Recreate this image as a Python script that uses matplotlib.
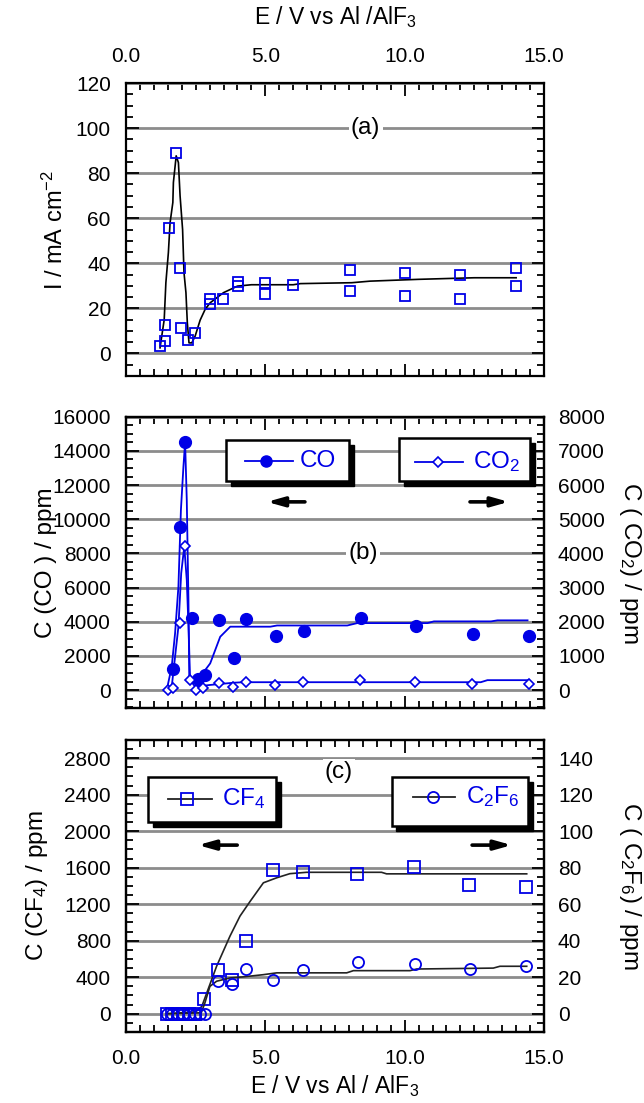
import matplotlib
matplotlib.use('Agg')
import matplotlib.pyplot as plt
from matplotlib.patches import Rectangle
from matplotlib.ticker import MultipleLocator, FormatStrFormatter

plt.rcParams['font.family'] = ['Liberation Sans', 'DejaVu Sans']
plt.rcParams['mathtext.fontset'] = 'custom'
plt.rcParams['mathtext.rm'] = 'Liberation Sans'
plt.rcParams['mathtext.it'] = 'Liberation Sans:italic'
plt.rcParams['mathtext.bf'] = 'Liberation Sans:bold'
plt.rcParams['mathtext.default'] = 'regular'

BLUE = '#0000e6'
GRID = '#8c8c8c'
TICKFS = 15
LABFS = 17

# ---- (a) current density
a_E = [1.22, 1.40, 1.40, 1.56, 1.80, 1.95, 1.98, 2.22, 2.49, 3.02, 3.02, 3.48,
       4.02, 4.02, 5.0, 5.0, 6.0, 8.03, 8.03, 10.0, 10.0, 12.0, 12.0, 14.0, 14.0]
a_I = [3.2, 5.5, 12.6, 55.7, 88.8, 37.8, 11.1, 6.2, 8.9, 24.0, 21.8, 24.0,
       31.9, 29.9, 31.4, 26.2, 30.5, 37.0, 27.7, 35.6, 25.5, 35.0, 24.0, 37.8, 29.8]
a_fitE = [1.22, 1.37, 1.43, 1.52, 1.58, 1.68, 1.70, 1.80, 1.88, 1.94, 2.03, 2.08,
          2.15, 2.20, 2.26, 2.36, 2.48, 2.66, 2.84, 3.02, 3.50, 4.00, 4.50, 6.00,
          6.26, 8.10, 8.76, 10.5, 12.5, 14.0]
a_fitI = [2.5, 15.0, 31.4, 44.8, 58.0, 67.0, 75.9, 87.7, 84.7, 69.9, 55.0, 35.9,
          27.0, 13.6, 4.7, 4.7, 7.7, 14.8, 19.6, 22.5, 27.0, 29.9, 30.5, 30.5,
          31.0, 31.4, 32.1, 32.9, 33.6, 33.6]

# ---- (b) CO (left axis) and CO2 (right axis)
co_E = [1.70, 1.94, 2.12, 2.36, 2.59, 2.84, 3.34, 3.86, 4.32, 5.38, 6.38,
        8.42, 10.4, 12.44, 14.45]
co_C = [1210, 9530, 14500, 4240, 630, 860, 4100, 1890, 4140, 3180, 3460,
        4240, 3750, 3260, 3180]
co_fitE = [1.46, 1.64, 1.76, 1.88, 1.97, 2.06, 2.12, 2.18, 2.24, 2.27, 2.42,
           2.66, 3.02, 3.38, 3.74, 5.18, 5.42, 7.94, 8.30, 10.82, 11.05, 13.10,
           13.33, 14.41]
co_fitC = [0, 1370, 3320, 6050, 10550, 13080, 14500, 11130, 5270, 590, 390,
           780, 1560, 3120, 3710, 3710, 3780, 3780, 3920, 3920, 4020, 4020,
           4080, 4080]
co2_E = [1.49, 1.68, 1.92, 2.10, 2.30, 2.51, 2.78, 3.32, 3.84, 4.31, 5.36, 6.36,
         8.38, 10.37, 12.4, 14.45]
co2_C = [0, 50, 1950, 4230, 290, 0, 50, 200, 100, 245, 150, 245,
         290, 225, 175, 175]
co2_fitE = [1.49, 1.64, 1.88, 1.98, 2.09, 2.18, 2.25, 2.30, 2.48, 3.02, 3.86,
            4.22, 12.73, 12.97, 14.40]
co2_fitC = [0, 100, 1855, 3420, 4200, 3220, 1660, 290, 100, 150, 215,
            230, 230, 290, 290]

# ---- (c) CF4 (left axis) and C2F6 (right axis)
cf4_E = [1.46, 1.66, 1.86, 2.06, 2.26, 2.46, 2.80, 3.31, 3.79, 4.29, 5.29, 6.34,
         8.30, 10.33, 12.32, 14.35]
cf4_C = [0, 0, 0, 0, 0, 0, 160, 480, 370, 800, 1580, 1550,
         1530, 1605, 1410, 1385]
cf4_fitE = [1.46, 2.50, 2.72, 2.90, 3.25, 3.73, 4.09, 4.45, 4.93, 5.41, 5.88,
            6.48, 9.17, 9.35, 14.38]
cf4_fitC = [0, 20, 80, 230, 520, 850, 1070, 1230, 1435, 1490, 1535,
            1550, 1550, 1533, 1533]
c2f6_E = [1.46, 1.66, 1.86, 2.06, 2.26, 2.46, 2.66, 2.83, 3.31, 3.81, 4.29,
          5.29, 6.36, 8.34, 10.36, 12.34, 14.35]
c2f6_C = [0, 0, 0, 0, 0, 0, 0, 0, 17.7, 16.5, 24.5,
          18.3, 23.8, 28.2, 27.3, 24.5, 26.3]
c2f6_fitE = [1.46, 2.70, 2.83, 3.01, 3.25, 3.73, 4.21, 4.93, 5.41, 7.92, 8.16,
             10.19, 10.43, 13.18, 13.42, 14.38]
c2f6_fitC = [0, 0.5, 5.9, 15.0, 17.8, 19.6, 20.2, 21.4, 22.4, 22.4, 23.6,
             23.6, 24.5, 25.0, 26.0, 26.0]


def style(ax, ymaj, ymin):
    ax.set_xlim(0, 15)
    ax.xaxis.set_major_locator(MultipleLocator(5))
    ax.xaxis.set_minor_locator(MultipleLocator(0.5))
    ax.xaxis.set_major_formatter(FormatStrFormatter('%.1f'))
    ax.yaxis.set_major_locator(MultipleLocator(ymaj))
    ax.yaxis.set_minor_locator(MultipleLocator(ymin))
    ax.tick_params(which='both', direction='in', top=True, width=1.3,
                   labelsize=TICKFS)
    ax.tick_params(which='major', length=9)
    ax.tick_params(which='minor', length=5)
    ax.tick_params(axis='y', pad=11)
    ax.tick_params(axis='x', pad=12)
    ax.grid(axis='y', which='major', color=GRID, lw=2.0)
    ax.set_axisbelow(True)
    for s in ax.spines.values():
        s.set_linewidth(1.6)


def style_right(ax2, ymaj, ymin):
    ax2.yaxis.set_major_locator(MultipleLocator(ymaj))
    ax2.yaxis.set_minor_locator(MultipleLocator(ymin))
    ax2.tick_params(which='both', direction='in', width=1.3, labelsize=TICKFS, pad=10)
    ax2.tick_params(which='major', length=9)
    ax2.tick_params(which='minor', length=5)
    for s in ax2.spines.values():
        s.set_linewidth(1.6)


def legend_box(ax, x0, y0, x1, y1, hx0, hx1, hy, mx, tx, label, lc, mk):
    ax.add_patch(Rectangle((x0 + 0.011, y0 - 0.018), x1 - x0, y1 - y0,
                           transform=ax.transAxes, fc='k', ec='k', zorder=10))
    ax.add_patch(Rectangle((x0, y0), x1 - x0, y1 - y0, transform=ax.transAxes,
                           fc='white', ec='k', lw=1.8, zorder=11))
    ax.plot([hx0, hx1], [hy, hy], transform=ax.transAxes, color=lc, lw=1.3,
            zorder=12, clip_on=False)
    ax.plot([mx], [hy], transform=ax.transAxes, zorder=13, clip_on=False, **mk)
    ax.text(tx, hy, label, transform=ax.transAxes, va='center', ha='left',
            color=BLUE, fontsize=17.5, zorder=13)


def arrow(ax, xa, xb, y):
    ax.annotate('', xy=(xa, y), xytext=(xb, y), xycoords='axes fraction',
                textcoords='axes fraction', zorder=14,
                arrowprops=dict(arrowstyle='-|>,head_length=1.0,head_width=0.28',
                                color='k', lw=2.6, shrinkA=0, shrinkB=0))


fig = plt.figure(figsize=(6.44, 11.03), dpi=100)
L, W = 0.1957, 0.649
ax_a = fig.add_axes([L, 0.6591, W, 0.2656])
ax_b = fig.add_axes([L, 0.3578, W, 0.2644])
ax_c = fig.add_axes([L, 0.0644, W, 0.2647])

# ---------------- (a)
ax_a.plot(a_fitE, a_fitI, color='k', lw=1.2, zorder=3)
ax_a.plot(a_E, a_I, ls='none', marker='s', ms=7.8, mfc='none', mec=BLUE,
          mew=1.3, zorder=4)
style(ax_a, 20, 5)
ax_a.set_ylim(-10, 120)
ax_a.tick_params(which='both', right=True, labeltop=True, labelbottom=False)
ax_a.xaxis.set_label_position('top')
ax_a.set_xlabel('E / V vs Al /AlF$_3$', fontsize=16.5, va='center')
ax_a.xaxis.set_label_coords(0.5, 1.224)
ax_a.set_ylabel('I / mA cm$^{-2}$', fontsize=LABFS, va='center')
ax_a.yaxis.set_label_coords(-0.170, 0.5)
ax_a.text(8.6, 100, '(a)', fontsize=17.5, ha='center', va='center', zorder=5,
          bbox=dict(fc='white', ec='none', pad=1.5))

# ---------------- (b)
ax_b2 = ax_b.twinx()
ax_b.plot(co_fitE, co_fitC, color=BLUE, lw=1.3, zorder=3)
ax_b.plot(co_E, co_C, ls='none', marker='o', ms=8.5, color=BLUE, zorder=4)
ax_b2.plot(co2_fitE, co2_fitC, color=BLUE, lw=1.3, zorder=3)
ax_b2.plot(co2_E, co2_C, ls='none', marker='D', ms=5.5, mfc='white', mec=BLUE,
           mew=1.2, zorder=4)
style(ax_b, 2000, 500)
style_right(ax_b2, 1000, 250)
ax_b.set_ylim(-1070, 16000)
ax_b2.set_ylim(-535, 8000)
ax_b.tick_params(labelbottom=False)
ax_b.set_ylabel('C (CO ) / ppm', fontsize=LABFS + 0.5, va='center')
ax_b.yaxis.set_label_coords(-0.192, 0.5)
ax_b2.set_ylabel('C ( CO$_2$) / ppm', fontsize=LABFS + 0.5, rotation=270, va='center')
ax_b2.yaxis.set_label_coords(1.206, 0.5)
ax_b2.text(8.51, 4000, '(b)', fontsize=17.5, ha='center', va='center', zorder=5,
           bbox=dict(fc='white', ec='none', pad=1.5))
legend_box(ax_b2, 0.239, 0.780, 0.534, 0.920, 0.285, 0.400, 0.848, 0.334, 0.416,
           'CO', BLUE, dict(marker='o', ms=8, color=BLUE))
legend_box(ax_b2, 0.653, 0.780, 0.967, 0.927, 0.691, 0.807, 0.846, 0.747, 0.829,
           'CO$_2$', BLUE, dict(marker='D', ms=5, mfc='white', mec=BLUE, mew=1.2))
arrow(ax_b2, 0.337, 0.428, 0.708)
arrow(ax_b2, 0.916, 0.823, 0.708)

# ---------------- (c)
ax_c2 = ax_c.twinx()
ax_c.plot(cf4_fitE, cf4_fitC, color='#222222', lw=1.2, zorder=3)
ax_c.plot(cf4_E, cf4_C, ls='none', marker='s', ms=8, mfc='none', mec=BLUE,
          mew=1.3, zorder=4)
ax_c2.plot(c2f6_fitE, c2f6_fitC, color='#222222', lw=1.2, zorder=3)
ax_c2.plot(c2f6_E, c2f6_C, ls='none', marker='o', ms=8, mfc='none', mec=BLUE,
           mew=1.3, zorder=4)
style(ax_c, 400, 100)
style_right(ax_c2, 20, 5)
ax_c.set_ylim(-200, 3000)
ax_c2.set_ylim(-10, 150)
ax_c.set_xlabel('E / V vs Al / AlF$_3$', fontsize=16.5, va='center')
ax_c.xaxis.set_label_coords(0.5, -0.184)
ax_c.set_ylabel('C (CF$_4$) / ppm', fontsize=LABFS + 0.5, va='center')
ax_c.yaxis.set_label_coords(-0.214, 0.5)
ax_c2.set_ylabel('C ( C$_2$F$_6$) / ppm', fontsize=LABFS + 0.5, rotation=270, va='center')
ax_c2.yaxis.set_label_coords(1.206, 0.5)
ax_c2.text(7.64, 132.5, '(c)', fontsize=17.5, ha='center', va='center', zorder=5,
           bbox=dict(fc='white', ec='none', pad=1.5))
legend_box(ax_c2, 0.053, 0.719, 0.359, 0.873, 0.101, 0.205, 0.798, 0.147, 0.229,
           'CF$_4$', '#222222', dict(marker='s', ms=8, mfc='none', mec=BLUE, mew=1.3))
legend_box(ax_c2, 0.636, 0.705, 0.962, 0.873, 0.686, 0.787, 0.806, 0.734, 0.813,
           'C$_2$F$_6$', '#222222', dict(marker='o', ms=8, mfc='none', mec=BLUE, mew=1.3))
arrow(ax_c2, 0.172, 0.266, 0.640)
arrow(ax_c2, 0.923, 0.828, 0.640)

ax_b2.set_xlim(0, 15)
ax_c2.set_xlim(0, 15)

fig.savefig('out.png', dpi=100)
